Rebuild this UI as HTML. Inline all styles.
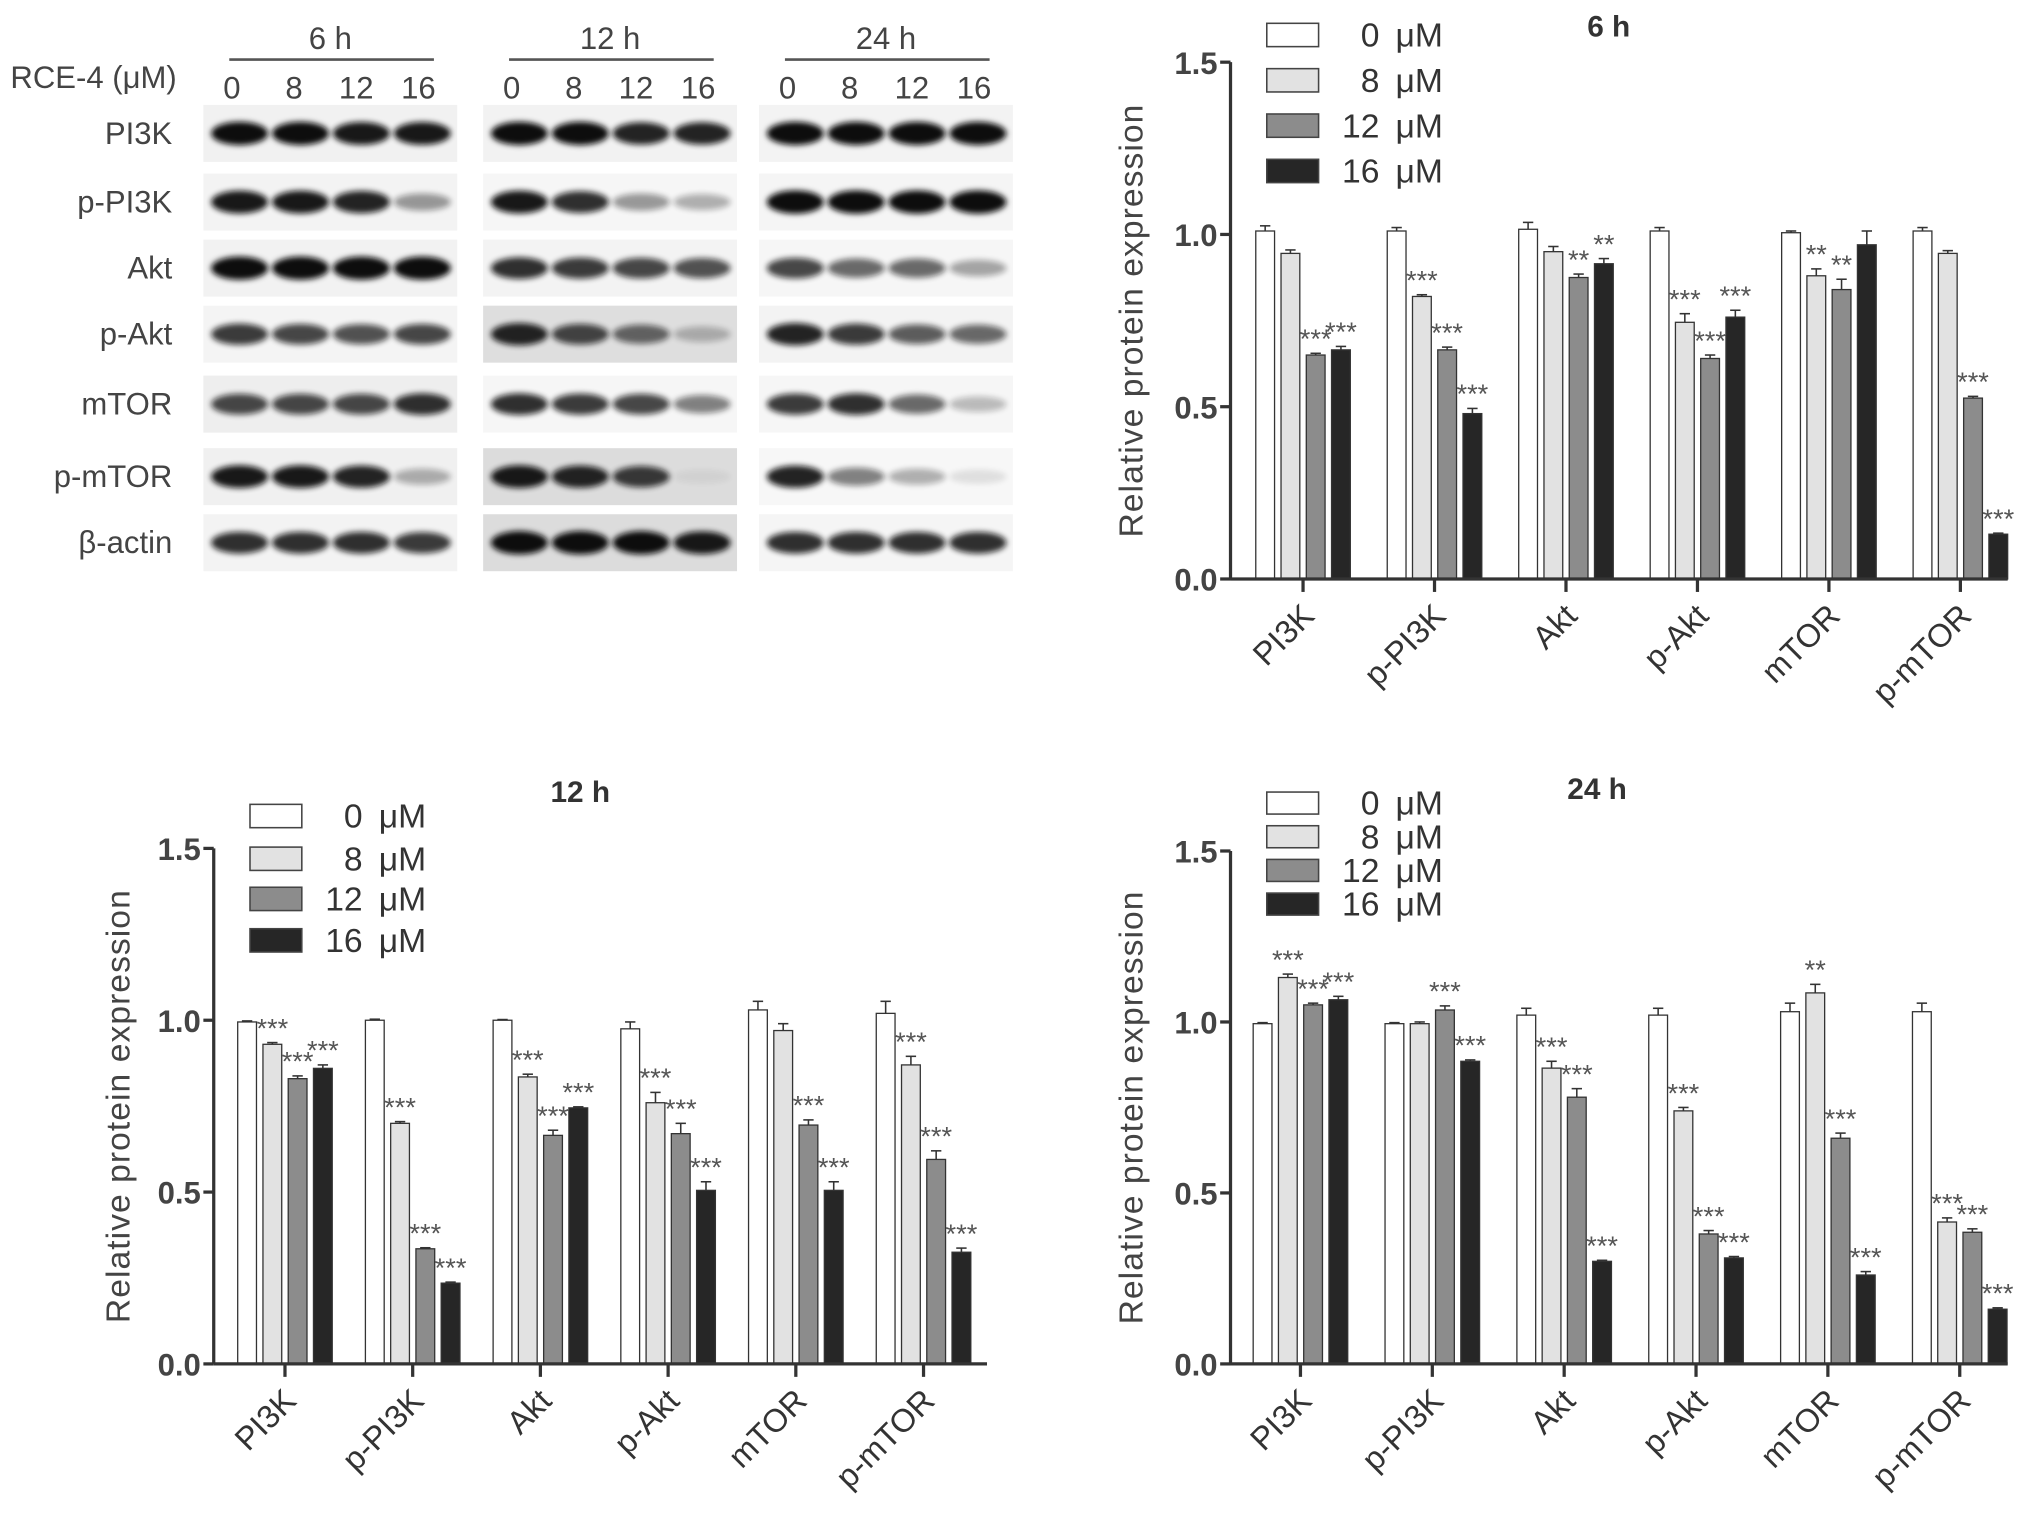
<!DOCTYPE html>
<html><head><meta charset="utf-8"><style>
html,body{margin:0;padding:0;background:#fff;}
svg{display:block;font-family:"Liberation Sans",Arial,sans-serif;}
</style></head><body>
<svg id="fig" width="2031" height="1531" viewBox="0 0 1568 1182" xmlns="http://www.w3.org/2000/svg">
<defs><filter id="blur" x="-20%" y="-50%" width="140%" height="200%"><feGaussianBlur stdDeviation="2.2"/></filter></defs>
<g id="blot"></g>
<g id="c6"></g>
<g id="c12"></g>
<g id="c24"></g>
</svg>
<script>
const categories = ["PI3K","p-PI3K","Akt","p-Akt","mTOR","p-mTOR"];
const seriesNames = ["0 μM","8 μM","12 μM","16 μM"];
const yTicks = [0.0,0.5,1.0,1.5];
const yTickLabels = ["0.0","0.5","1.0","1.5"];
const vals6 = [[1.01,0.945,0.65,0.665],[1.01,0.82,0.665,0.48],[1.015,0.95,0.875,0.915],[1.01,0.745,0.64,0.76],[1.005,0.88,0.84,0.97],[1.01,0.945,0.525,0.13]];
const err6 = [[0.015,0.01,0.005,0.01],[0.01,0.005,0.008,0.015],[0.02,0.015,0.01,0.015],[0.01,0.025,0.01,0.02],[0.005,0.02,0.03,0.04],[0.01,0.008,0.005,0.003]];
const stars6 = [["","","***","***"],["","***","***","***"],["","","**","**"],["","***","***","***"],["","**","**",""],["","","***","***"]];
const vals12 = [[0.995,0.93,0.83,0.86],[1.0,0.70,0.335,0.235],[1.0,0.835,0.665,0.745],[0.975,0.76,0.67,0.505],[1.03,0.97,0.695,0.505],[1.02,0.87,0.595,0.325]];
const err12 = [[0.003,0.005,0.008,0.01],[0.003,0.005,0.003,0.003],[0.002,0.008,0.015,0.003],[0.02,0.03,0.03,0.025],[0.025,0.02,0.015,0.025],[0.035,0.025,0.025,0.012]];
const stars12 = [["","***","***","***"],["","***","***","***"],["","***","***","***"],["","***","***","***"],["","","***","***"],["","***","***","***"]];
const vals24 = [[0.995,1.13,1.05,1.065],[0.995,0.995,1.035,0.885],[1.02,0.865,0.78,0.30],[1.02,0.74,0.38,0.31],[1.03,1.085,0.66,0.26],[1.03,0.415,0.385,0.16]];
const err24 = [[0.003,0.01,0.005,0.01],[0.003,0.005,0.012,0.004],[0.02,0.02,0.025,0.003],[0.02,0.01,0.01,0.004],[0.025,0.025,0.015,0.01],[0.025,0.012,0.01,0.004]];
const stars24 = [["","***","***","***"],["","","***","***"],["","***","***","***"],["","***","***","***"],["","**","***","***"],["","***","***","***"]];
const fills = ["#ffffff","#e2e2e2","#8c8c8c","#262626"];
const NS="http://www.w3.org/2000/svg";
function mk(parent,tag,attrs,text){const e=document.createElementNS(NS,tag);for(const k in attrs)e.setAttribute(k,attrs[k]);if(text!==undefined)e.textContent=text;parent.appendChild(e);return e;}

function chart(gid,title,vals,errs,stars,cfg){
  const g=document.getElementById(gid);
  const y=v=>cfg.y0-(cfg.y0-cfg.y15)*v/1.5;
  const cx=i=>cfg.first+i*cfg.step;
  const bw=14.5,bg=5;
  const t=mk(g,'text',{x:cfg.tx,y:cfg.ty,'font-size':23,'font-weight':'bold','text-anchor':'middle',fill:'#333'},title);
  
  
  seriesNames.forEach((s,k)=>{
    const ly=cfg.ly[k];
    const r=mk(g,'rect',{x:cfg.lx,y:ly-cfg.lh/2,width:40,height:cfg.lh,fill:fills[k],stroke:'#444','stroke-width':1.2});
    
    
    const lt=mk(g,'text',{x:cfg.lx+136,y:ly+9,'font-size':26,'text-anchor':'end',fill:'#333'},s.replace(' ','\u2009 '));
    
    
  });
  const ya=mk(g,'line',{x1:cfg.ax,y1:cfg.y15,x2:cfg.ax,y2:cfg.y0,stroke:'#333','stroke-width':2.5});
  
  
  yTicks.forEach((v,i)=>{
    mk(g,'line',{x1:cfg.ax-8,y1:y(v),x2:cfg.ax,y2:y(v),stroke:'#333','stroke-width':2.5});
    const tl=mk(g,'text',{x:cfg.ax-10,y:y(v)+9,'font-size':24,'font-weight':'bold','text-anchor':'end',fill:'#444'},yTickLabels[i]);
    
    
  });
  const yt=mk(g,'text',{x:0,y:0,'font-size':26,'text-anchor':'middle',fill:'#444','letter-spacing':'0.8',transform:`translate(${cfg.yl},${(cfg.y0+cfg.y15)/2}) rotate(-90)`},'Relative protein expression');
  
  
  categories.forEach((c,i)=>{
    const gx=cx(i);
    const x0=gx-(4*bw+3*bg)/2;
    vals[i].forEach((v,k)=>{
      const bx=x0+k*(bw+bg);
      const b=mk(g,'rect',{x:bx,y:y(v),width:bw,height:cfg.y0-y(v),fill:fills[k],stroke:'#333','stroke-width':1});
      
      
      const e=errs[i][k];
      mk(g,'line',{x1:bx+bw/2,y1:y(v),x2:bx+bw/2,y2:y(v+e),stroke:'#333','stroke-width':1.2});
      mk(g,'line',{x1:bx+bw/2-4,y1:y(v+e),x2:bx+bw/2+4,y2:y(v+e),stroke:'#333','stroke-width':1.2});
      if(stars[i][k]){
        const st=mk(g,'text',{x:bx+bw/2,y:y(v+e)-4,'font-size':21,'text-anchor':'middle',fill:'#555'},stars[i][k]);
        
        
      }
    });
    mk(g,'line',{x1:gx,y1:cfg.y0,x2:gx,y2:cfg.y0+10,stroke:'#333','stroke-width':2.5});
    const xl=mk(g,'text',{x:0,y:0,'font-size':25,'text-anchor':'end',fill:'#333',transform:`translate(${gx+10},${cfg.y0+30}) rotate(-45)`},c);
    
    
  });
  const xa=mk(g,'line',{x1:cfg.ax,y1:cfg.y0,x2:cfg.xend,y2:cfg.y0,stroke:'#333','stroke-width':2.5});
  
  
}
chart('c6','6 h',vals6,err6,stars6,{ax:950,y0:447,y15:48,first:1006,step:101.5,xend:1550,tx:1242,ty:28,lx:978,ly:[27,62,97,132],lh:18,yl:882});
chart('c12','12 h',vals12,err12,stars12,{ax:165,y0:1053,y15:655,first:220,step:98.6,xend:762,tx:448,ty:619,lx:193,ly:[630,663,694,726],lh:18,yl:100});
chart('c24','24 h',vals24,err24,stars24,{ax:950,y0:1053,y15:657,first:1004,step:101.8,xend:1550,tx:1233,ty:617,lx:978,ly:[620,646,672,698],lh:17,yl:882});

const blotRows = ["PI3K","p-PI3K","Akt","p-Akt","mTOR","p-mTOR","β-actin"];
const blotTimes = ["6 h","12 h","24 h"];
const doses = ["0","8","12","16"];
const bandIntensity = [
 [[1,1,0.95,0.95],[0.95,0.95,0.9,0.4],[1,1,1,1],[0.8,0.75,0.7,0.75],[0.75,0.75,0.75,0.85],[0.95,0.95,0.9,0.3],[0.85,0.85,0.85,0.8]],
 [[1,1,0.9,0.9],[0.95,0.85,0.4,0.3],[0.85,0.8,0.75,0.7],[0.9,0.75,0.6,0.25],[0.85,0.8,0.75,0.5],[0.95,0.9,0.8,0.05],[1,1,1,0.95]],
 [[1,1,1,1],[1,1,1,1],[0.75,0.6,0.6,0.35],[0.9,0.8,0.65,0.6],[0.8,0.85,0.6,0.25],[0.9,0.5,0.3,0.1],[0.85,0.85,0.85,0.85]]
];
const blot=document.getElementById('blot');
const panelX=[157,373,586], panelW=196;
const rowY=[103,156,207,258,312,368,419];
const panelBg=[["#f1f1f1","#f3f3f3","#f2f2f2","#f4f4f4","#eeeeee","#f0f0f0","#f3f3f3"],["#f2f2f2","#f6f6f6","#f3f3f3","#dedede","#f6f6f6","#dcdcdc","#dcdcdc"],["#f3f3f3","#f5f5f5","#f6f6f6","#f3f3f3","#f6f6f6","#f7f7f7","#f5f5f5"]];
const hdr=mk(blot,'text',{x:8,y:68,'font-size':24,fill:'#444'},'RCE-4 (μM)');


blotTimes.forEach((tm,p)=>{
  const px=panelX[p];
  const tl=mk(blot,'text',{x:px+98,y:38,'font-size':24,'text-anchor':'middle',fill:'#444'},tm);
  
  
  mk(blot,'line',{x1:px+20,y1:46,x2:px+178,y2:46,stroke:'#555','stroke-width':2});
  doses.forEach((d,l)=>{
    const dl=mk(blot,'text',{x:px+22+l*48,y:76,'font-size':24,'text-anchor':'middle',fill:'#444'},d);
    
    
  });
  blotRows.forEach((r,ri)=>{
    const cy=rowY[ri];
    const pr=mk(blot,'rect',{x:px,y:cy-22,width:panelW,height:44,fill:panelBg[p][ri]});
    
    
    bandIntensity[p][ri].forEach((v,l)=>{
      const b=mk(blot,'ellipse',{cx:px+28+l*47,cy:cy,rx:22,ry:5+4*v,fill:'#111',opacity:v,filter:'url(#blur)'});
      
      
    });
  });
});
blotRows.forEach((r,ri)=>{
  const t=mk(blot,'text',{x:133,y:rowY[ri]+8,'font-size':24,'text-anchor':'end',fill:'#444'},r);
  
  
});
</script>
</body></html>
